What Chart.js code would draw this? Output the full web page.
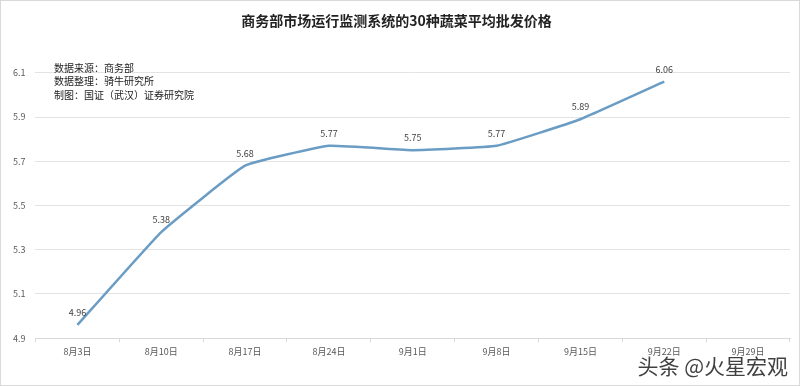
<!DOCTYPE html>
<html>
<head>
<meta charset="utf-8">
<script src="https://cdn.jsdelivr.net/npm/chart.js@4"></script>
<style>
  html, body { margin: 0; padding: 0; background: #fff; }
  #wrap { width: 800px; height: 386px; position: relative; }
</style>
</head>
<body>
<div id="wrap"><canvas id="chart" width="800" height="386"></canvas></div>
<script>
const dates = ["8月3日", "8月10日", "8月17日", "8月24日", "9月1日", "9月8日", "9月15日", "9月22日", "9月29日"];
const prices = [4.96, 5.38, 5.68, 5.77, 5.75, 5.77, 5.89, 6.06, null];
const notes = ["数据来源：商务部", "数据整理：骑牛研究所", "制图：国证（武汉）证券研究院"];
const titleText = "商务部市场运行监测系统的30种蔬菜平均批发价格";
const watermark = "头条 @火星宏观";

const fontFam = "'Noto Sans CJK SC', 'Microsoft YaHei', sans-serif";

// labels above points, notes block, frame, watermark
const extras = {
  id: "extras",
  afterDatasetsDraw(chart) {
    const ctx = chart.ctx;
    const meta = chart.getDatasetMeta(0);
    ctx.save();
    ctx.font = "9px " + fontFam;
    ctx.fillStyle = "#404040";
    ctx.textAlign = "center";
    ctx.textBaseline = "bottom";
    meta.data.forEach((pt, i) => {
      if (prices[i] == null) return;
      ctx.fillText(prices[i].toFixed(2), pt.x, pt.y - 8);
    });

    ctx.textAlign = "left";
    ctx.textBaseline = "middle";
    ctx.font = "10px " + fontFam;
    ctx.fillStyle = "#222";
    notes.forEach((t, i) => ctx.fillText(t, 54, 68 + i * 13.5));

    ctx.strokeStyle = "#d9d9d9";
    ctx.lineWidth = 1;
    ctx.strokeRect(0.5, 0.5, chart.width - 1, chart.height - 1);

    ctx.font = "21px " + fontFam;
    ctx.fillStyle = "rgba(30,30,30,0.85)";
    ctx.textAlign = "right";
    ctx.fillText(watermark, 788, 366);
    ctx.restore();
  }
};

new Chart(document.getElementById("chart").getContext("2d"), {
  type: "line",
  data: {
    labels: dates,
    datasets: [{
      data: prices,
      borderColor: "#6a9cc4",
      borderWidth: 2.5,
      pointRadius: 0,
      fill: false,
      tension: 0.1,
      spanGaps: false
    }]
  },
  options: {
    animation: false,
    responsive: false,
    maintainAspectRatio: false,
    layout: { padding: { left: 3, right: 10, top: 0, bottom: 25 } },
    plugins: {
      legend: { display: false },
      tooltip: { enabled: false },
      title: {
        display: true,
        text: titleText,
        color: "#222",
        font: { family: fontFam, size: 14, weight: "bold" },
        padding: { top: 12, bottom: 44 }
      }
    },
    scales: {
      x: {
        offset: true,
        grid: {
          offset: true,
          drawOnChartArea: false,
          drawTicks: true,
          tickLength: 4,
          color: "#d9d9d9"
        },
        border: { color: "#d9d9d9", width: 1 },
        ticks: {
          color: "#595959",
          font: { family: fontFam, size: 9 },
          padding: 4,
          maxRotation: 0,
          autoSkip: false
        }
      },
      y: {
        min: 4.9,
        max: 6.1,
        grid: { color: "#e3e3e3", drawTicks: false },
        border: { display: false },
        ticks: {
          stepSize: 0.2,
          color: "#595959",
          font: { family: fontFam, size: 9 },
          padding: 10,
          callback: v => v.toFixed(1)
        }
      }
    }
  },
  plugins: [extras]
});
</script>
</body>
</html>
